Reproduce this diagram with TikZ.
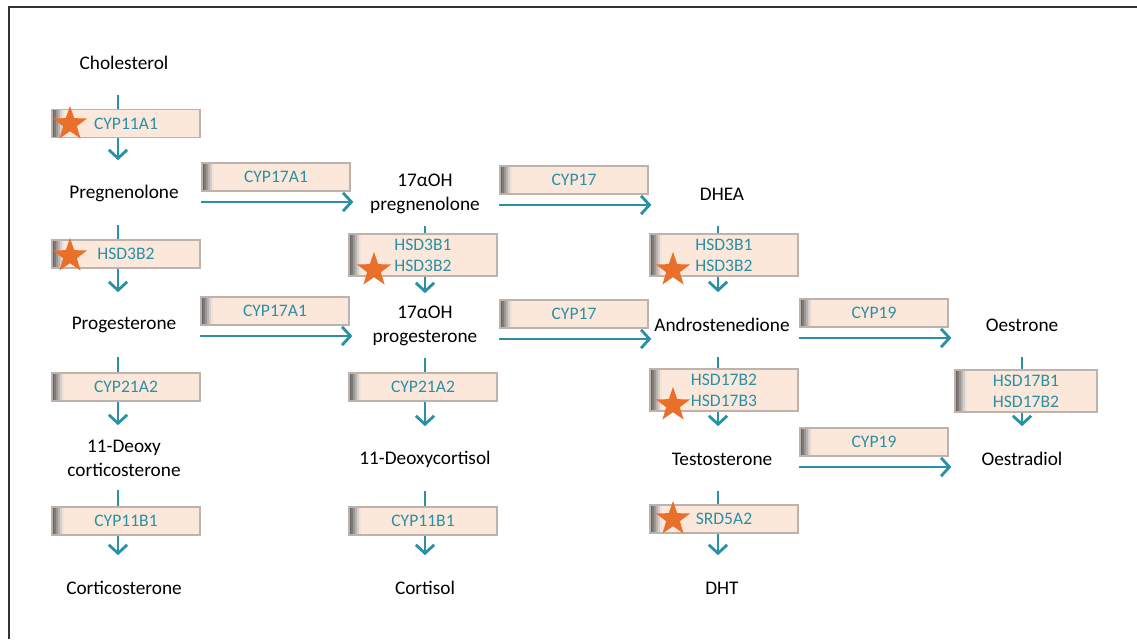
\documentclass[tikz,border=0pt]{standalone}
\usepackage{fontspec}
\setmainfont{Carlito}
\usetikzlibrary{arrows.meta,shapes.geometric}
\definecolor{tealtxt}{HTML}{2A90A6}
\definecolor{boxfill}{HTML}{FCE8DA}
\definecolor{boxline}{HTML}{BDB3AC}
\definecolor{starorange}{HTML}{E8702A}
\tikzset{
  metab/.style={align=center, font=\fontsize{13.7}{17}\selectfont},
  enzyme/.style={draw=boxline, fill=boxfill, line width=0.8pt,
    minimum width=3.7cm, minimum height=0.7cm, align=center,
    text=tealtxt, font=\fontsize{12.5}{15}\selectfont,
    path picture={\foreach \i/\c in {0/0,1/15,2/35,3/55,4/75,5/90}
      \fill[boxfill!\c!black!60]
        ([xshift=\i*0.05cm]path picture bounding box.south west) rectangle
        ([xshift=\i*0.05cm+0.05cm]path picture bounding box.north west);}},
  flow/.style={tealtxt, line width=2pt, -{Straight Barb[length=6pt,width=13pt]}},
  hit/.style={star, star points=5, star point ratio=2.5, fill=starorange,
    minimum size=0.9cm, inner sep=0pt}
}
\begin{document}
\begin{tikzpicture}[x=0.025cm, y=-0.025cm]
  \useasboundingbox (0,0) rectangle (1137,639);
  \draw[line width=1.5pt, black!80] (9,639) -- (9,7) -- (1137,7);

  % metabolites
  \node[metab] (chol) at (124,63) {Cholesterol};
  \node[metab] (preg) at (124,193) {Pregnenolone};
  \node[metab] (prog) at (124,325) {Progesterone};
  \node[metab] (doc) at (124,458) {11-Deoxy\\corticosterone};
  \node[metab] (cort) at (124,588) {Corticosterone};
  \node[metab] (ohpreg) at (425,194) {17αOH\\pregnenolone};
  \node[metab] (ohprog) at (425,326) {17αOH\\progesterone};
  \node[metab] (dcortisol) at (425,459) {11-Deoxycortisol};
  \node[metab] (cortisol) at (425,588) {Cortisol};
  \node[metab] (dhea) at (722,194) {DHEA};
  \node[metab] (andro) at (722,325) {Androstenedione};
  \node[metab] (testo) at (722,459) {Testosterone};
  \node[metab] (dht) at (722,588) {DHT};
  \node[metab] (oestrone) at (1022,325) {Oestrone};
  \node[metab] (oestradiol) at (1022,459) {Oestradiol};

  % vertical steps
  \foreach \a/\b/\s in {chol/preg/-0.15, preg/prog/-0.15, prog/doc/-0.15,
      doc/cort/-0.15, ohpreg/ohprog/0, ohprog/dcortisol/0,
      dcortisol/cortisol/0, dhea/andro/-0.1, andro/testo/-0.1,
      testo/dht/-0.1, oestrone/oestradiol/0}
    \draw[flow, shorten <=0.8cm, shorten >=0.82cm]
      ([xshift=\s cm]\a.center) -- ([xshift=\s cm]\b.center);

  % enzymes
  \node[enzyme] (cyp11a) at (126,123.5) {CYP11A1};
  \node[enzyme] (hsda) at (126,254) {HSD3B2};
  \node[enzyme] (cyp21a) at (126,387) {CYP21A2};
  \node[enzyme] (cyp11ba) at (126,521) {CYP11B1};
  \node[enzyme, minimum height=0.95cm] (hsdb) at (423,255) {HSD3B1\\HSD3B2};
  \node[enzyme] (cyp21b) at (423,387) {CYP21A2};
  \node[enzyme] (cyp11bb) at (423,521) {CYP11B1};
  \node[enzyme, minimum height=0.95cm] (hsdc) at (724,255) {HSD3B1\\HSD3B2};
  \node[enzyme, minimum height=1cm] (hsdd) at (724,390) {HSD17B2\\HSD17B3};
  \node[enzyme] (srd) at (724,519) {SRD5A2};
  \node[enzyme, minimum height=1cm, minimum width=3.55cm] (hsde) at (1026,391) {HSD17B1\\HSD17B2};
  \node[enzyme] (cyp17a) at (276,177) {CYP17A1};
  \node[enzyme] (cyp17b) at (574,180) {CYP17};
  \node[enzyme] (cyp17c) at (275,311) {CYP17A1};
  \node[enzyme] (cyp17d) at (574,314) {CYP17};
  \node[enzyme] (cyp19a) at (874,313) {CYP19};
  \node[enzyme] (cyp19b) at (874,442) {CYP19};

  % side steps
  \foreach \e in {cyp17a, cyp17b, cyp17c, cyp17d, cyp19a, cyp19b}
    \draw[flow] ([yshift=-0.26cm]\e.south west) -- ([yshift=-0.26cm, xshift=2pt]\e.south east);

  % stars
  \node[hit] (s1) at (70,124) {};
  \node[hit] (s2) at (70,256) {};
  \node[hit] (s3) at (374,270) {};
  \node[hit] (s4) at (673,270) {};
  \node[hit] (s5) at (673,405) {};
  \node[hit] (s6) at (673,519) {};
\end{tikzpicture}
\end{document}
